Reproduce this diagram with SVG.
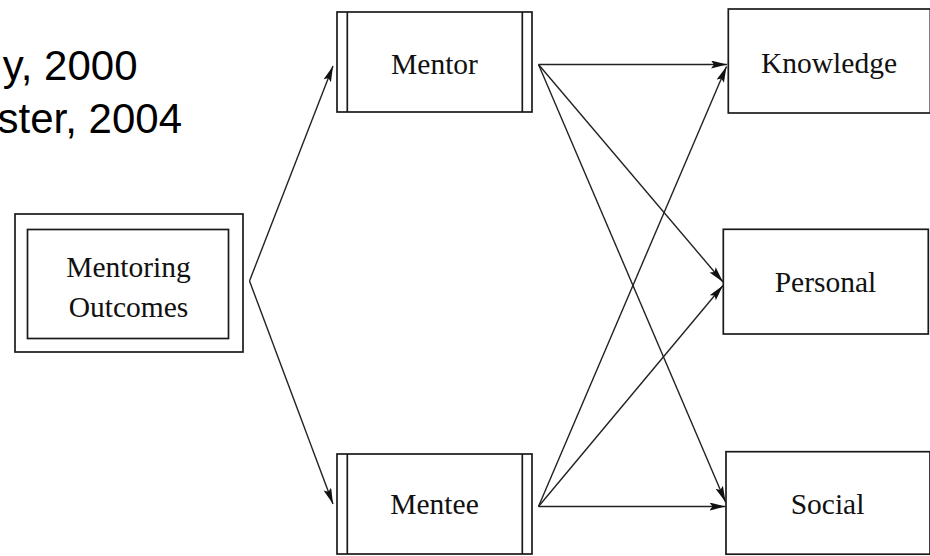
<svg xmlns="http://www.w3.org/2000/svg" width="930" height="556" viewBox="0 0 930 556">
  <style>
    .box { fill: #fff; stroke: #1a1a1a; stroke-width: 1.7; }
    .bar { stroke: #1a1a1a; stroke-width: 1.7; }
    .label { font-family: "Liberation Serif", "Times New Roman", serif; font-size: 29.5px; fill: #111; text-anchor: middle; }
    .cite { font-family: "Liberation Sans", Arial, sans-serif; font-size: 42px; fill: #000; text-anchor: end; }
    .link { fill: none; stroke: #222; stroke-width: 1.4; marker-end: url(#arrow); }
  </style>
  <defs>
    <marker id="arrow" markerUnits="userSpaceOnUse" markerWidth="17" markerHeight="9" refX="16" refY="4" orient="auto">
      <path d="M0,0 L16,4 L0,8 L3,4 Z" fill="#111"/>
    </marker>
  </defs>

  <rect width="930" height="556" fill="#fff"/>

  <!-- citation fragments, running off the left edge -->
  <text class="cite" x="137.5" y="80">y, 2000</text>
  <text class="cite" x="182" y="133">ster, 2004</text>

  <g id="outcomes">
    <rect class="box" x="15" y="214" width="228" height="138"/>
    <rect class="box" x="27.5" y="229.5" width="201" height="109"/>
    <text class="label" x="128.5" y="277">Mentoring</text>
    <text class="label" x="128.5" y="317">Outcomes</text>
  </g>

  <g id="mentor">
    <rect class="box" x="337" y="12" width="195" height="100"/>
    <line class="bar" x1="347.3" y1="12" x2="347.3" y2="112"/>
    <line class="bar" x1="522.3" y1="12" x2="522.3" y2="112"/>
    <text class="label" x="434.5" y="73.5">Mentor</text>
  </g>

  <g id="mentee">
    <rect class="box" x="337" y="454" width="195" height="100"/>
    <line class="bar" x1="347.3" y1="454" x2="347.3" y2="554"/>
    <line class="bar" x1="522.3" y1="454" x2="522.3" y2="554"/>
    <text class="label" x="434.5" y="513.5">Mentee</text>
  </g>

  <g id="knowledge">
    <rect class="box" x="728.3" y="9" width="202" height="104"/>
    <text class="label" x="829" y="72.5">Knowledge</text>
  </g>

  <g id="personal">
    <rect class="box" x="723.3" y="229.3" width="205" height="104.7"/>
    <text class="label" x="825.5" y="292">Personal</text>
  </g>

  <g id="social">
    <rect class="box" x="726" y="451.7" width="204" height="102.5"/>
    <text class="label" x="827.5" y="514">Social</text>
  </g>

  <g id="connectors">
    <line class="link" x1="249.5" y1="281" x2="333" y2="66"/>
    <line class="link" x1="249.5" y1="281" x2="333" y2="504"/>

    <line class="link" x1="538.5" y1="64.5" x2="727" y2="64.5"/>
    <line class="link" x1="538.5" y1="64.5" x2="723" y2="282"/>
    <line class="link" x1="538.5" y1="64.5" x2="725.5" y2="502"/>

    <line class="link" x1="538.5" y1="506.5" x2="726.5" y2="66.5"/>
    <line class="link" x1="538.5" y1="506.5" x2="723" y2="285.5"/>
    <line class="link" x1="538.5" y1="506.5" x2="725.5" y2="506.5"/>
  </g>
</svg>
